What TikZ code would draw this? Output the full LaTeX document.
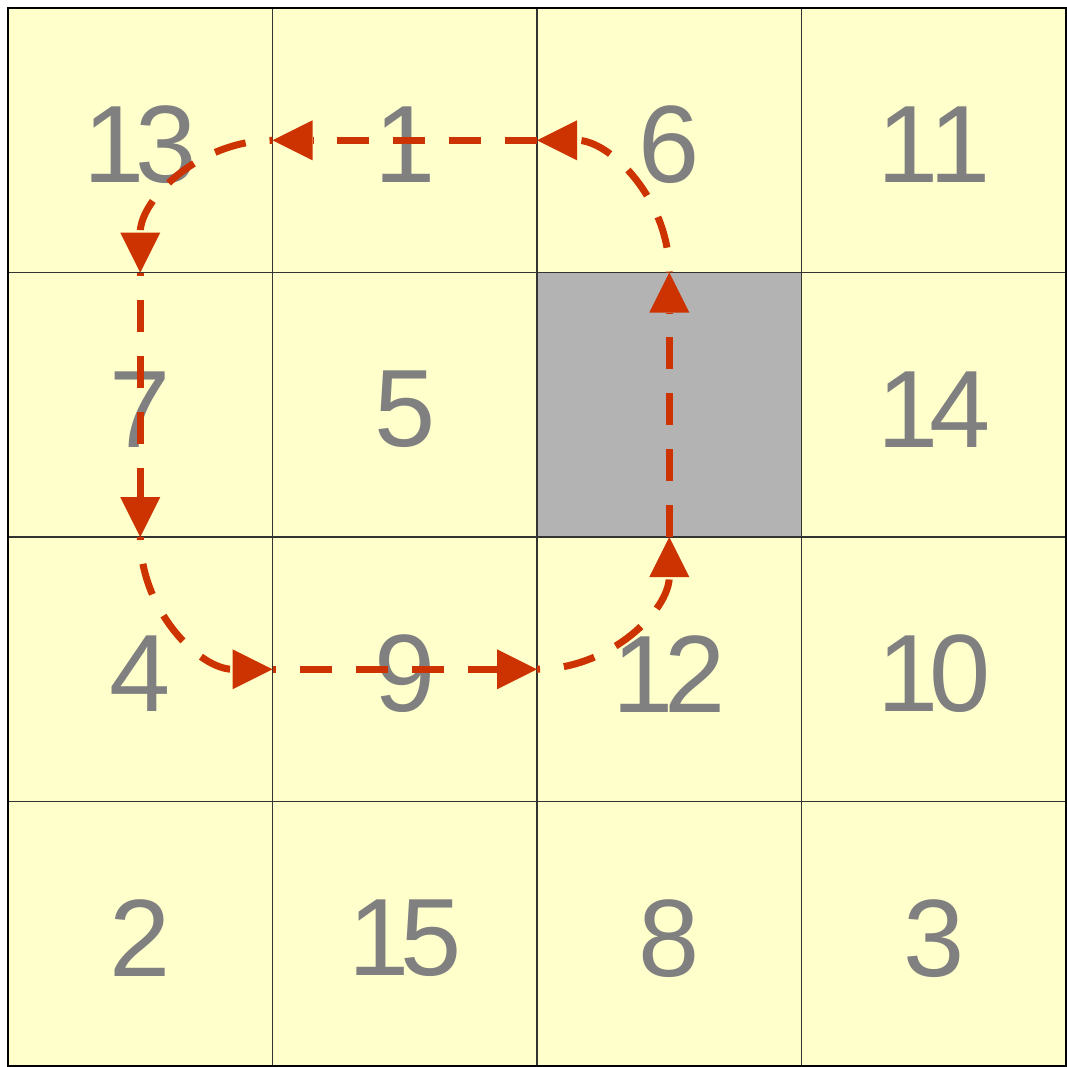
\documentclass[tikz,border=0pt]{standalone}
\usepackage{fontspec}
\setmainfont{Liberation Sans}
\usetikzlibrary{arrows.meta}
\definecolor{cellyellow}{HTML}{FFFFCC}
\definecolor{cellgray}{HTML}{B3B3B3}
\definecolor{arrowred}{HTML}{CC3300}
\definecolor{numgray}{HTML}{808080}
\newcommand{\twodig}[2]{#1\kern-9pt #2}
\begin{document}
\begin{tikzpicture}[x=1pt,y=-1pt,
  cell/.style={draw=black!80, line width=1.4pt, fill=cellyellow, minimum width=264.5pt, minimum height=264.5pt, inner sep=0pt, outer sep=0pt},
  blank/.style={cell, fill=cellgray},
  num/.style={text=numgray, font=\fontsize{110}{110}\selectfont, inner sep=0pt, anchor=center, yshift=-4.5pt},
  move/.style={draw=arrowred, line width=7pt, dash pattern=on 32pt off 24pt, -{Triangle[length=40pt,width=40pt,line width=0pt]}},
  phasegap/.style={dash phase=29pt},
]
\useasboundingbox (0,0) rectangle (1067,1066);
% cells
\node[cell]  (c11) at (140.25,140.25) {};
\node[cell]  (c12) at (404.75,140.25) {};
\node[cell]  (c13) at (669.25,140.25) {};
\node[cell]  (c14) at (933.75,140.25) {};
\node[cell]  (c21) at (140.25,404.75) {};
\node[cell]  (c22) at (404.75,404.75) {};
\node[blank] (c23) at (669.25,404.75) {};
\node[cell]  (c24) at (933.75,404.75) {};
\node[cell]  (c31) at (140.25,669.25) {};
\node[cell]  (c32) at (404.75,669.25) {};
\node[cell]  (c33) at (669.25,669.25) {};
\node[cell]  (c34) at (933.75,669.25) {};
\node[cell]  (c41) at (140.25,933.75) {};
\node[cell]  (c42) at (404.75,933.75) {};
\node[cell]  (c43) at (669.25,933.75) {};
\node[cell]  (c44) at (933.75,933.75) {};
\draw[line width=2.5pt] (c11.north west) rectangle (c44.south east);
% numbers
\node[num] (n13) at (c11.center) {\twodig{1}{3}};
\node[num] (n1)  at (c12.center) {1};
\node[num] (n6)  at (c13.center) {6};
\node[num] (n11) at (c14.center) {\twodig{1}{1}};
\node[num] (n7)  at (c21.center) {7};
\node[num] (n5)  at (c22.center) {5};
\node[num] (n14) at (c24.center) {\twodig{1}{4}};
\node[num] (n4)  at (c31.center) {4};
\node[num] (n9)  at (c32.center) {9};
\node[num] (n12) at (c33.center) {\twodig{1}{2}};
\node[num] (n10) at (c34.center) {\twodig{1}{0}};
\node[num] (n2)  at (c41.center) {2};
\node[num] (n15) at (c42.center) {\twodig{1}{5}};
\node[num] (n8)  at (c43.center) {8};
\node[num] (n3)  at (c44.center) {3};
% path points on cell borders
\coordinate (p1) at (140.25,537);
\coordinate (p2) at (272.5,669.25);
\coordinate (p3) at (537,669.25);
\coordinate (p4) at (669.25,537);
\coordinate (p5) at (669.25,272.5);
\coordinate (p6) at (537,140.25);
\coordinate (p7) at (272.5,140.25);
\coordinate (p8) at (140.25,272.5);
% moves
\draw[move,phasegap] (p1) .. controls (140.25,610.1) and (199.4,669.25) .. (p2);
\draw[move,phasegap] (p2) -- (p3);
\draw[move,phasegap] (p3) .. controls (610.1,669.25) and (669.25,610.1) .. (p4);
\draw[move] (p4) -- (p5);
\draw[move,dash phase=31pt] (p5) .. controls (669.25,199.4) and (610.1,140.25) .. (p6);
\draw[move] (p6) -- (p7);
\draw[move,phasegap] (p7) .. controls (199.4,140.25) and (140.25,199.4) .. (p8);
\draw[move,phasegap] (p8) -- (p1);
\end{tikzpicture}
\end{document}
